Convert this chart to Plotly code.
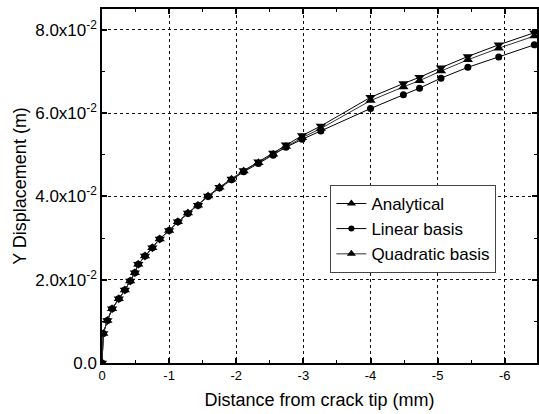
import plotly.graph_objects as go

# Distance from crack tip (mm) -- shown as negative values
distance = [0, -0.02, -0.08, -0.15, -0.25, -0.34, -0.42, -0.49, -0.54, -0.64, -0.75,
            -0.86, -1.0, -1.13, -1.28, -1.43, -1.58, -1.75, -1.93, -2.11, -2.33,
            -2.55, -2.74, -2.98, -3.26, -4.0, -4.49, -4.73, -5.05, -5.45, -5.91, -6.44]

analytical = [0, 0.0071, 0.0102, 0.0130, 0.0154, 0.0175, 0.0197, 0.0217, 0.0237, 0.0257, 0.0277,
              0.0298, 0.0318, 0.0339, 0.0360, 0.0379, 0.0401, 0.0422, 0.0442, 0.0462, 0.0483,
              0.0504, 0.0524, 0.0546, 0.0569, 0.0638, 0.0671, 0.0686, 0.0709, 0.0736, 0.0764, 0.0793]

linear = [0, 0.0071, 0.0102, 0.0130, 0.0154, 0.0175, 0.0197, 0.0217, 0.0237, 0.0257, 0.0277,
          0.0298, 0.0318, 0.0339, 0.0359, 0.0378, 0.0400, 0.0420, 0.0440, 0.0459, 0.0479,
          0.0499, 0.0518, 0.0537, 0.0557, 0.0611, 0.0644, 0.0660, 0.0684, 0.0710, 0.0735, 0.0764]

quadratic = [0, 0.0071, 0.0102, 0.0130, 0.0154, 0.0175, 0.0197, 0.0217, 0.0237, 0.0257, 0.0277,
             0.0298, 0.0318, 0.0339, 0.0360, 0.0379, 0.0401, 0.0422, 0.0441, 0.0461, 0.0481,
             0.0501, 0.0520, 0.0541, 0.0563, 0.0630, 0.0663, 0.0678, 0.0701, 0.0728, 0.0756, 0.0785]

x_ticks = [0, -1, -2, -3, -4, -5, -6]
x_tick_text = ["0", "-1", "-2", "-3", "-4", "-5", "-6"]
y_ticks = [0, 0.02, 0.04, 0.06, 0.08]
y_tick_text = ["0.0", "2.0x10<sup>-2</sup>", "4.0x10<sup>-2</sup>",
               "6.0x10<sup>-2</sup>", "8.0x10<sup>-2</sup>"]

FONT = "Arial, Liberation Sans, sans-serif"

fig = go.Figure()

# data traces
fig.add_trace(go.Scatter(x=distance, y=analytical, mode="lines+markers", showlegend=False,
                         line=dict(color="black", width=1),
                         marker=dict(symbol="triangle-down", size=9, color="black")))
fig.add_trace(go.Scatter(x=distance, y=linear, mode="lines+markers", showlegend=False,
                         line=dict(color="black", width=1),
                         marker=dict(symbol="circle", size=7, color="black")))
fig.add_trace(go.Scatter(x=distance, y=quadratic, mode="lines+markers", showlegend=False,
                         line=dict(color="#333333", width=1),
                         marker=dict(symbol="triangle-up", size=9, color="black")))

# legend entries
fig.add_trace(go.Scatter(x=[None], y=[None], mode="lines+markers", name="Analytical",
                         line=dict(color="black", width=1),
                         marker=dict(symbol="triangle-up", size=8, color="black")))
fig.add_trace(go.Scatter(x=[None], y=[None], mode="lines+markers", name="Linear basis",
                         line=dict(color="black", width=1),
                         marker=dict(symbol="circle", size=6, color="black")))
fig.add_trace(go.Scatter(x=[None], y=[None], mode="lines+markers", name="Quadratic basis",
                         line=dict(color="#777777", width=1.5),
                         marker=dict(symbol="triangle-up", size=8, color="black")))

axis_common = dict(
    showline=True, linecolor="black", linewidth=1.5, mirror="ticks",
    ticks="inside", ticklen=5, tickwidth=1.5, tickcolor="black",
    showgrid=True, gridcolor="#111111", griddash="dot", gridwidth=1,
    zeroline=False,
)

fig.update_layout(
    width=539, height=414,
    margin=dict(l=102, r=0, t=9, b=51),
    paper_bgcolor="white", plot_bgcolor="white",
    font=dict(family=FONT, color="black"),
    xaxis=dict(range=[0, -6.48], tickvals=x_ticks, ticktext=x_tick_text,
               tickfont=dict(size=13),
               title=dict(text="Distance from crack tip (mm)", font=dict(size=18), standoff=11),
               minor=dict(ticks="inside", ticklen=3, tickwidth=1, tickcolor="black", dtick=0.5,
                          showgrid=False),
               **axis_common),
    yaxis=dict(range=[0, 0.085], tickvals=y_ticks, ticktext=y_tick_text,
               tickfont=dict(size=17),
               title=dict(text="Y Displacement (m)", font=dict(size=18), standoff=4),
               minor=dict(ticks="inside", ticklen=3, tickwidth=1, tickcolor="black", dtick=0.01,
                          showgrid=False),
               **axis_common),
    legend=dict(x=0.525, y=0.503, xanchor="left", yanchor="top",
                bgcolor="white", bordercolor="#444444", borderwidth=1,
                font=dict(size=17, family=FONT)),
)

fig.write_html("out.html", config={"displayModeBar": False},
               post_script="document.body.style.margin='0';document.body.style.overflow='hidden';")
